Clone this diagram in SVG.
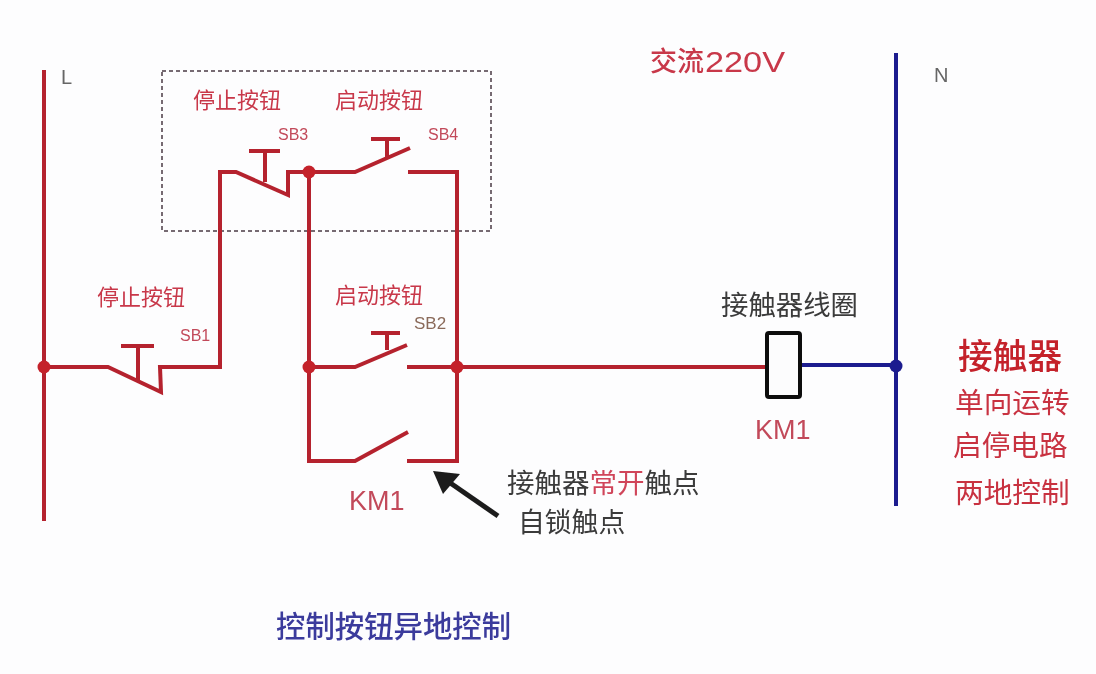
<svg xmlns="http://www.w3.org/2000/svg" width="1096" height="674" viewBox="0 0 1096 674">
<defs>
<style>
.w{fill:none;stroke:#b5242e;stroke-width:4;stroke-linejoin:miter;stroke-linecap:butt}
.b{fill:none;stroke:#1f1f8f;stroke-width:4}
.d{fill:#c4202c}
text{font-family:"Noto Sans CJK SC","Liberation Sans",sans-serif}
.r{fill:#c8384a}
.k{fill:#3a3a3a}
.l{font-family:"Liberation Sans",sans-serif;fill:#c24a5a}
</style>
<filter id="soft" x="-5%" y="-5%" width="110%" height="110%"><feGaussianBlur stdDeviation="0.6"/></filter>
</defs>
<rect width="1096" height="674" fill="#fdfdfe"/>
<g filter="url(#soft)">
<g id="connectors">
<path class="w" d="M44 70V521"/>
<path class="b" d="M896 53V506"/>
<path d="M162 71H491V231H162Z" fill="none" stroke="#4a3a45" stroke-width="1.5" stroke-dasharray="4 3"/>
<path class="w" d="M44 367H108L161 392L160 367H220V172H236L288 195V172H355L410 148"/>
<path class="w" d="M121 346H154M138 346V380"/>
<path class="w" d="M249 151H280M265 151V182"/>
<path class="w" d="M371 139H400M387 139V158"/>
<path class="w" d="M408 172H457V461H407"/>
<path class="w" d="M309 172V461H355L408 432"/>
<path class="w" d="M309 367H355L407 345"/>
<path class="w" d="M371 333H400M387 333V350"/>
<path class="w" d="M407 367H767"/>
<path class="b" d="M800 365H896"/>
<path d="M498 516L446 480" fill="none" stroke="#1c1c1c" stroke-width="5"/>
<path d="M433 471L460 474L443 494Z" fill="#1c1c1c"/>
</g>
<g id="junctions">
<circle class="d" cx="44" cy="367" r="6.5"/>
<circle class="d" cx="309" cy="172" r="6.5"/>
<circle class="d" cx="309" cy="367" r="6.5"/>
<circle class="d" cx="457" cy="367" r="6.5"/>
<circle cx="896" cy="366" r="6.5" fill="#1f1f8f"/>
</g>
<g id="coil-KM1">
<rect x="767" y="333" width="33" height="64" rx="2" fill="#fcfcfd" stroke="#111" stroke-width="4"/>
<text class="k" x="721" y="315" font-size="27.4">接触器线圈</text>
<text class="l" x="755" y="439" font-size="27">KM1</text>
</g>
<g id="labels">
<text class="l" x="61" y="84" font-size="20" style="fill:#666">L</text>
<text class="l" x="934" y="82" font-size="20" style="fill:#666">N</text>
<text class="r" x="650" y="71" font-size="27" font-weight="500">交流</text>
<text class="l" x="705" y="72" font-size="29" textLength="80" lengthAdjust="spacingAndGlyphs" style="fill:#c8384a">220V</text>
<text class="r" x="193" y="108" font-size="22">停止按钮</text>
<text class="r" x="335" y="108" font-size="22">启动按钮</text>
<text class="l" x="278" y="140" font-size="16">SB3</text>
<text class="l" x="428" y="140" font-size="16">SB4</text>
<text class="r" x="97" y="305" font-size="22">停止按钮</text>
<text class="r" x="335" y="303" font-size="22">启动按钮</text>
<text class="l" x="180" y="341" font-size="16">SB1</text>
<text class="l" x="414" y="329" font-size="17" style="fill:#8a6a5a">SB2</text>
<text class="l" x="349" y="510" font-size="27">KM1</text>
<text class="k" x="507" y="493" font-size="27.5">接触器<tspan fill="#d0455a">常开</tspan>触点</text>
<text class="k" x="518" y="532" font-size="26.8">自锁触点</text>
<text x="958" y="369" font-size="34.7" fill="#c4202c" font-weight="500">接触器</text>
<text x="955" y="413" font-size="28.7" fill="#c83040">单向运转</text>
<text x="953" y="456" font-size="28.7" fill="#c83040">启停电路</text>
<text x="955" y="503" font-size="28.7" fill="#c83040">两地控制</text>
<text x="276" y="637" font-size="29.4" fill="#3a3a9c" font-weight="500">控制按钮异地控制</text>
</g>
</g>
</svg>
